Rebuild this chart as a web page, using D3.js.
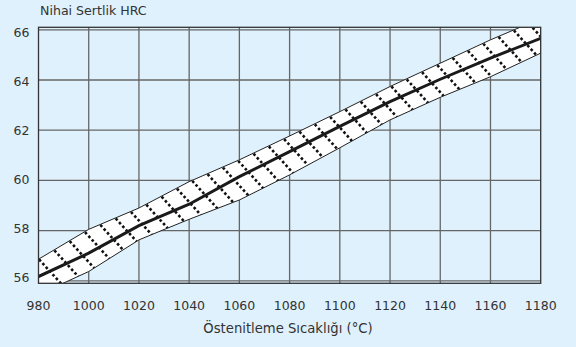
<!DOCTYPE html>
<html>
<head>
<meta charset="utf-8">
<script src="https://cdn.jsdelivr.net/npm/d3@7/dist/d3.min.js"></script>
<style>
  html, body { margin: 0; padding: 0; background: #dff1fc; }
  text { font-family: "DejaVu Sans", Verdana, sans-serif; fill: #333; }
</style>
</head>
<body>
<svg id="chart" width="576" height="347"></svg>
<script>
// tick labels
var xTicks = [980, 1000, 1020, 1040, 1060, 1080, 1100, 1120, 1140, 1160, 1180];
var yTicks = [56, 58, 60, 62, 64, 66];

// band
var midTemps  = [980, 1000, 1020, 1040, 1060, 1080, 1100, 1120, 1140, 1160, 1180];
var midHrc    = [56.17, 57.1, 58.2, 59.05, 60.15, 61.15, 62.15, 63.14, 64.03, 64.87, 65.66];
var upTemps   = [980, 1000, 1020, 1040, 1060, 1080, 1100, 1120, 1140, 1160, 1180];
var upHrc     = [56.86, 58.05, 58.9, 59.95, 60.82, 61.77, 62.74, 63.74, 64.67, 65.6, 66.45];
var lowTemps  = [980, 1000, 1020, 1028, 1040, 1060, 1080, 1100, 1120, 1140, 1160, 1180];
var lowHrc    = [55.45, 56.37, 57.63, 57.96, 58.45, 59.22, 60.22, 61.3, 62.41, 63.31, 64.13, 65.07];

var margin = {top: 27.3, right: 35.3, bottom: 63.7, left: 38.5},
    width = 576 - margin.left - margin.right,
    height = 347 - margin.top - margin.bottom;

var svg = d3.select('#chart');
var g = svg.append('g').attr('transform', 'translate(' + margin.left + ',' + margin.top + ')');

var x = d3.scaleLinear().domain([980, 1180]).range([0, width]);
var y = d3.scaleLinear().domain([55.9, 66.1]).range([height, 0]);

var defs = svg.append('defs');
defs.append('clipPath').attr('id', 'plot')
  .append('rect').attr('width', width).attr('height', height);

// grid
g.append('g').selectAll('line').data(xTicks.slice(1, -1)).join('line')
  .attr('x1', d => x(d)).attr('x2', d => x(d))
  .attr('y1', 0).attr('y2', height)
  .attr('stroke', '#666').attr('stroke-width', 1.3);
g.append('g').selectAll('line').data(yTicks).join('line')
  .attr('x1', 0).attr('x2', width)
  .attr('y1', d => y(d)).attr('y2', d => y(d))
  .attr('stroke', '#666').attr('stroke-width', 1.3);

var up = upTemps.map((t, i) => [x(t), y(upHrc[i])]);
var low = lowTemps.map((t, i) => [x(t), y(lowHrc[i])]);
var mid = midTemps.map((t, i) => [x(t), y(midHrc[i])]);

var line = d3.line();
var bandPath = line(up.concat(low.slice().reverse())) + 'Z';

defs.append('clipPath').attr('id', 'band')
  .append('path').attr('d', bandPath);

var plot = g.append('g').attr('clip-path', 'url(#plot)');

plot.append('path').attr('d', bandPath).attr('fill', '#fff');

// dotted hatching across the band, each line starting a bit above the upper edge
var upAt = d3.scaleLinear().domain(upTemps).range(upHrc);
var hatch = d3.range(974, 1190, 6.1);
var slope = 1.1, len = 60;
plot.append('g').attr('clip-path', 'url(#band)')
  .selectAll('line').data(hatch).join('line')
  .attr('x1', d => x(d) - 3)
  .attr('y1', d => y(upAt(d)) - 3 * slope)
  .attr('x2', d => x(d) - 3 + len)
  .attr('y2', d => y(upAt(d)) - 3 * slope + len * slope)
  .attr('stroke', '#111').attr('stroke-width', 2.6)
  .attr('stroke-dasharray', '2.6,2.4');

plot.append('path').attr('d', bandPath)
  .attr('fill', 'none').attr('stroke', '#222').attr('stroke-width', 1);

plot.append('path').attr('d', line(mid))
  .attr('fill', 'none').attr('stroke', '#1a1a1a').attr('stroke-width', 3);

// frame
g.append('rect').attr('width', width).attr('height', height)
  .attr('fill', 'none').attr('stroke', '#333').attr('stroke-width', 1.3);

// tick labels
g.append('g').selectAll('text').data(xTicks).join('text')
  .attr('x', d => x(d)).attr('y', height + 27)
  .attr('text-anchor', 'middle').attr('font-size', 12.5)
  .text(d => d);
g.append('g').selectAll('text').data(yTicks).join('text')
  .attr('x', -9).attr('y', d => y(d) + (d - 61) * 0.6).attr('dy', '0.35em')
  .attr('text-anchor', 'end').attr('font-size', 12.5)
  .text(d => d);

svg.append('text').attr('x', 40).attr('y', 15)
  .attr('font-size', 12.6).text('Nihai Sertlik HRC');
svg.append('text').attr('x', 288).attr('y', 333)
  .attr('text-anchor', 'middle').attr('font-size', 13.2)
  .text('Östenitleme Sıcaklığı (°C)');
</script>
</body>
</html>
